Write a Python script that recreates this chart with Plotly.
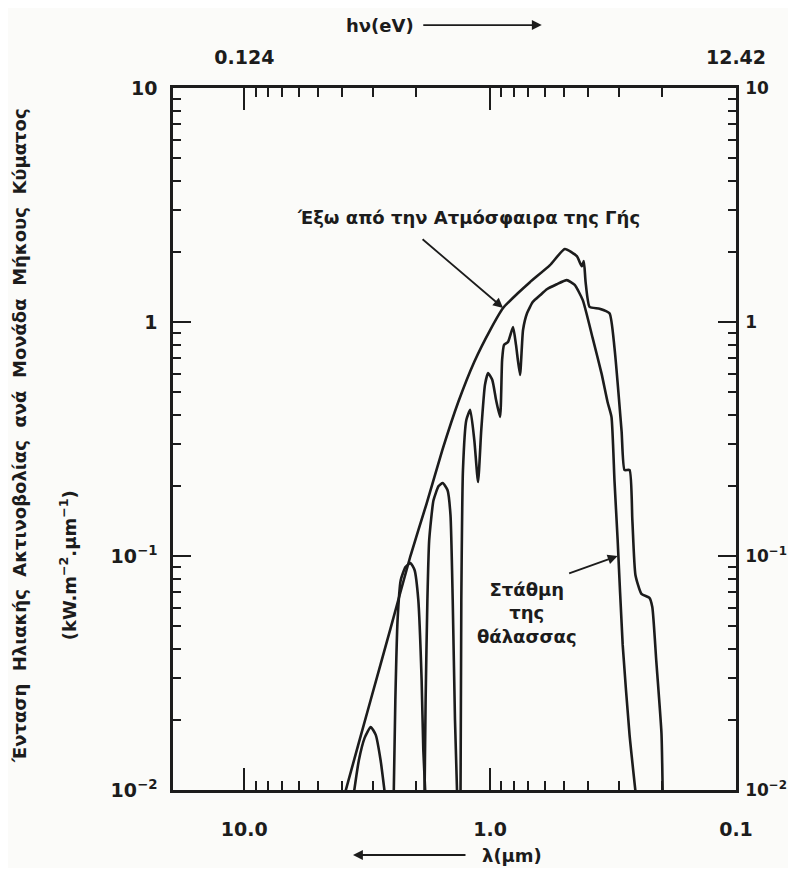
import numpy as np
import plotly.graph_objects as go

# ---------------- data (wavelength in μm, intensity in kW m^-2 μm^-1) ----------------
outer_lam = [3.95, 3.864, 3.06, 2.54, 2.11, 1.816, 1.564, 1.348, 1.161, 1.0, 0.886, 0.770,
             0.689, 0.571, 0.497, 0.444, 0.424, 0.416, 0.409, 0.394, 0.359, 0.327, 0.312,
             0.292, 0.284, 0.271, 0.264, 0.2565, 0.2425, 0.225, 0.219, 0.211, 0.201, 0.1985]
outer_I = [0.0091, 0.010, 0.0243, 0.0492, 0.100, 0.1667, 0.284, 0.455, 0.675, 0.924, 1.148, 1.330,
           1.48, 1.75, 2.05, 1.91, 1.73, 1.82, 1.48, 1.16, 1.14, 1.09, 0.774,
           0.342, 0.233, 0.233, 0.1426, 0.083, 0.0689, 0.0662, 0.0605, 0.0356, 0.0175, 0.009]

band1_lam = [3.62, 3.42, 3.24, 3.06, 2.92, 2.79, 2.66]
band1_I = [0.009, 0.0134, 0.0167, 0.0186, 0.0172, 0.0134, 0.009]

band2_lam = [2.47, 2.43, 2.38, 2.31, 2.21, 2.11, 2.03, 1.96, 1.90, 1.87, 1.83]
band2_I = [0.009, 0.0243, 0.0532, 0.0789, 0.0897, 0.0933, 0.0871, 0.0649, 0.0295, 0.0148, 0.009]

band3_lam = [1.85, 1.83, 1.80, 1.77, 1.70, 1.62, 1.56, 1.49, 1.45, 1.42, 1.39, 1.36]
band3_I = [0.009, 0.0243, 0.0649, 0.117, 0.173, 0.199, 0.205, 0.191, 0.150, 0.0649, 0.0199, 0.009]

main_lam = [1.32, 1.31, 1.29, 1.25, 1.205, 1.16, 1.12, 1.087, 1.05, 1.02, 0.98, 0.946, 0.911,
            0.894, 0.878, 0.846, 0.807, 0.785, 0.756, 0.735, 0.708, 0.670, 0.627, 0.588,
            0.536, 0.488, 0.453, 0.420, 0.383, 0.352, 0.333, 0.321, 0.312, 0.303, 0.289,
            0.271, 0.254]
main_I = [0.009, 0.0649, 0.233, 0.381, 0.421, 0.313, 0.207, 0.345, 0.538, 0.605, 0.565, 0.464, 0.393,
          0.689, 0.798, 0.821, 0.952, 0.798, 0.594, 0.924, 1.09, 1.22, 1.30, 1.38,
          1.45, 1.51, 1.44, 1.24, 0.855, 0.600, 0.455, 0.393, 0.209, 0.117, 0.0417,
          0.0172, 0.009]

# tick labels
x_tick_vals = [10, 1, 0.1]
x_tick_text = ["10.0", "1.0", "0.1"]
top_tick_text = ["0.124", "", "12.42"]          # hν (eV) = 1.242 / λ(μm)
y_tick_vals = [10, 1, 0.1, 0.01]
y_tick_text = ["10", "1", "10<sup>−1</sup>", "10<sup>−2</sup>"]

lam_max = 19.5
lam_min = 0.1
I_min, I_max = 0.01, 10

INK = "#1c1c1c"
FONT = "DejaVu Sans"

x_minor = [m * 10.0 ** e for e in (-1, 0) for m in range(2, 10)]
y_minor = [m * 10.0 ** e for e in (-2, -1, 0) for m in range(2, 10)]

fig = go.Figure()

line = dict(color=INK, width=2.6, shape="spline", smoothing=0.5)
fig.add_trace(go.Scatter(x=outer_lam, y=outer_I, mode="lines", line=line,
                         xaxis="x2", yaxis="y2", hoverinfo="skip"))
for lx, ly in [(band1_lam, band1_I), (band2_lam, band2_I),
               (band3_lam, band3_I), (main_lam, main_I)]:
    fig.add_trace(go.Scatter(x=lx, y=ly, mode="lines", line=line, hoverinfo="skip"))

xrange = [np.log10(lam_max), np.log10(lam_min)]
yrange = [np.log10(I_min), np.log10(I_max)]

tickfont = dict(family=FONT, size=19, color=INK, weight="bold")
common_x = dict(type="log", range=xrange, showgrid=False, zeroline=False, automargin=False,
                showline=True, linewidth=2.6, linecolor=INK,
                ticks="inside", ticklen=22, tickwidth=2, tickcolor=INK,
                tickmode="array", tickvals=x_tick_vals,
                minor=dict(ticks="inside", ticklen=9, tickwidth=2, tickcolor=INK,
                           tickmode="array", tickvals=x_minor, showgrid=False),
                tickfont=tickfont)
common_y = dict(type="log", range=yrange, showgrid=False, zeroline=False, automargin=False,
                showline=True, linewidth=2.6, linecolor=INK,
                ticks="inside", ticklen=18, tickwidth=2, tickcolor=INK,
                tickmode="array", tickvals=y_tick_vals, ticktext=y_tick_text,
                minor=dict(ticks="inside", ticklen=8, tickwidth=2, tickcolor=INK,
                           tickmode="array", tickvals=y_minor, showgrid=False),
                tickfont=tickfont)

# the page adds an 8px body margin; keep the page inside the 796x876 window
fig.update_layout(
    width=780, height=860, autosize=False,
    margin=dict(l=165, r=52, t=80, b=78),
    paper_bgcolor="#fbfbf9", plot_bgcolor="#fbfbf9",
    showlegend=False,
    xaxis=dict(common_x, ticktext=x_tick_text, side="bottom", ticklabelstandoff=20),
    xaxis2=dict(common_x, ticktext=top_tick_text, side="top", overlaying="x",
                anchor="y", ticklabelstandoff=14),
    yaxis=dict(common_y, side="left", ticklabelstandoff=9),
    yaxis2=dict(common_y, side="right", overlaying="y", anchor="x", ticklabelstandoff=3,
                tickfont=dict(family=FONT, size=17, color=INK, weight="bold")),
)

tf = dict(family=FONT, size=18, color=INK)
arrow = dict(showarrow=True, arrowhead=2, arrowsize=1.1, arrowwidth=1.8, arrowcolor=INK)
annots = [
    # curve labels
    dict(text="<b>Έξω από την Ατμόσφαιρα της Γής</b>", xref="paper", yref="paper",
         x=0.524, y=0.815, xanchor="center", yanchor="middle", showarrow=False, font=tf),
    dict(arrow, text="", x=np.log10(0.886), y=np.log10(1.148), xref="x", yref="y",
         ax=-82, ay=-70),
    dict(text="<b>Στάθμη<br>της<br>θάλασσας</b>", xref="paper", yref="paper",
         x=0.628, y=0.252, xanchor="center", yanchor="middle", showarrow=False,
         font=tf, align="center"),
    dict(arrow, text="", x=np.log10(0.303), y=np.log10(0.1), xref="x", yref="y",
         ax=-50, ay=18),
    # axis titles
    dict(text="<b>hν(eV)</b>", xref="paper", yref="paper", x=0.368, y=1.0897,
         xanchor="center", yanchor="middle", showarrow=False, font=tf),
    dict(arrow, text="", xref="paper", yref="paper", x=0.655, y=1.0897, ax=-120, ay=0),
    dict(text="<b>λ(μm)</b>", xref="paper", yref="paper", x=0.602, y=-0.0926,
         xanchor="center", yanchor="middle", showarrow=False, font=tf),
    dict(arrow, text="", xref="paper", yref="paper", x=0.3197, y=-0.0926, ax=114, ay=0),
    dict(text="<b>Ένταση  Ηλιακής  Ακτινοβολίας  ανά  Μονάδα  Μήκους  Κύματος</b>",
         xref="paper", yref="paper", x=-0.2718, y=0.5057, textangle=-90,
         xanchor="center", yanchor="middle",
         showarrow=False, font=dict(family=FONT, size=18, color=INK)),
    dict(text="<b>(kW.m<sup>−2</sup>.μm<sup>−1</sup>)</b>",
         xref="paper", yref="paper", x=-0.185, y=0.32, textangle=-90,
         xanchor="center", yanchor="middle",
         showarrow=False, font=dict(family=FONT, size=18, color=INK)),
]
fig.update_layout(annotations=annots)

fig.write_html("out.html")
